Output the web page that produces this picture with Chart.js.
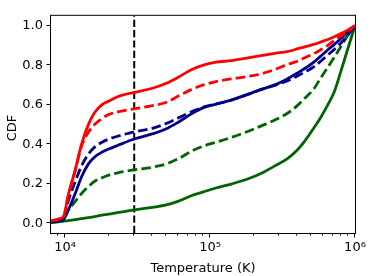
<!DOCTYPE html>
<html>
<head>
<meta charset="utf-8">
<script src="https://cdn.jsdelivr.net/npm/chart.js@4.4.1/dist/chart.umd.min.js"></script>
<style>
  html, body { margin: 0; padding: 0; background: #fff; }
  #wrap { width: 374px; height: 276px; }
</style>
</head>
<body>
<div id="wrap"><canvas id="cdfChart"></canvas></div>
<script>
const temps = [8000, 9000, 9800, 10500, 11750, 13000, 14500, 16000, 18000, 20000, 23000, 30000,
  40000, 50000, 60000, 75000, 90000, 110000, 140000, 180000, 230000, 280000, 340000, 400000,
  450000, 520000, 580000, 650000, 720000, 800000, 900000, 1000000];

// CDF values per curve
const redSolid = [0.01, 0.02, 0.035, 0.14, 0.27, 0.40, 0.50, 0.56, 0.60, 0.618, 0.64, 0.662,
  0.683, 0.708, 0.738, 0.778, 0.80, 0.815, 0.823, 0.836, 0.849, 0.86, 0.868, 0.882,
  0.893, 0.905, 0.917, 0.93, 0.944, 0.96, 0.98, 1.0];
const redDashed = [0.01, 0.02, 0.035, 0.135, 0.265, 0.39, 0.46, 0.50, 0.53, 0.55, 0.563, 0.579,
  0.595, 0.612, 0.642, 0.678, 0.70, 0.717, 0.731, 0.742, 0.758, 0.778, 0.803, 0.82,
  0.838, 0.858, 0.878, 0.90, 0.925, 0.948, 0.972, 1.0];
const blueDashed = [0.01, 0.015, 0.03, 0.11, 0.21, 0.29, 0.35, 0.385, 0.41, 0.425, 0.44, 0.462,
  0.48, 0.505, 0.532, 0.565, 0.588, 0.603, 0.623, 0.65, 0.678, 0.698, 0.72, 0.745,
  0.765, 0.792, 0.82, 0.852, 0.88, 0.912, 0.956, 1.0];
const blueSolid = [0.005, 0.01, 0.02, 0.064, 0.15, 0.235, 0.30, 0.335, 0.36, 0.375, 0.393, 0.426,
  0.452, 0.478, 0.51, 0.555, 0.585, 0.603, 0.623, 0.651, 0.68, 0.70, 0.73, 0.76,
  0.783, 0.815, 0.846, 0.878, 0.905, 0.935, 0.972, 1.0];
const greenDashed = [0.005, 0.01, 0.03, 0.064, 0.11, 0.15, 0.185, 0.212, 0.23, 0.243, 0.255, 0.27,
  0.283, 0.30, 0.325, 0.365, 0.39, 0.41, 0.434, 0.463, 0.495, 0.522, 0.555, 0.595,
  0.632, 0.68, 0.735, 0.79, 0.84, 0.895, 0.956, 1.0];
const greenSolid = [0.003, 0.006, 0.01, 0.013, 0.018, 0.023, 0.028, 0.033, 0.04, 0.045, 0.053, 0.067,
  0.08, 0.092, 0.11, 0.14, 0.158, 0.178, 0.198, 0.222, 0.255, 0.29, 0.325, 0.37,
  0.415, 0.482, 0.535, 0.6, 0.665, 0.77, 0.892, 1.0];

// Vertical marker
const cutTemp = 30000;

// Axis ticks
const xTicks = [1e4, 1e5, 1e6];
const xTickLabels = ['10⁴', '10⁵', '10⁶'];
const yTicks = [0, 0.2, 0.4, 0.6, 0.8, 1.0];

const minorXTicks = [];
for (const dec of [1e3, 1e4, 1e5]) {
  for (let m = 2; m <= 9; m++) minorXTicks.push(m * dec);
}

const FONT = '"DejaVu Sans", sans-serif';
Chart.defaults.font.family = FONT;
Chart.defaults.font.size = 13;
Chart.defaults.color = '#000';

const RED = '#ff0000';
const BLUE = '#00008b';
const GREEN = '#006400';
const DASH = [9.6, 4.2];

function pts(values) {
  return temps.map((t, i) => ({ x: t, y: values[i] }));
}

function series(values, color, dashed) {
  return {
    data: pts(values),
    borderColor: color,
    borderWidth: 2.8,
    borderDash: dashed ? DASH : [],
    pointRadius: 0,
    fill: false,
    cubicInterpolationMode: 'monotone'
  };
}

// frame, tick marks and y label
const framePlugin = {
  id: 'frame',
  afterDraw(chart) {
    const { ctx, chartArea: a, scales: { x, y } } = chart;
    ctx.save();
    ctx.strokeStyle = '#000';
    ctx.lineWidth = 1;
    ctx.strokeRect(a.left - 0.5, a.top - 0.5, a.right - a.left + 1, a.bottom - a.top + 1);

    ctx.beginPath();
    for (const v of xTicks) {
      const px = Math.round(x.getPixelForValue(v)) - 0.5;
      ctx.moveTo(px, a.bottom); ctx.lineTo(px, a.bottom + 4.5);
    }
    for (const v of minorXTicks) {
      if (v <= x.min || v >= x.max) continue;
      const px = Math.round(x.getPixelForValue(v)) - 0.5;
      ctx.moveTo(px, a.bottom); ctx.lineTo(px, a.bottom + 2.6);
    }
    for (const v of yTicks) {
      const py = Math.round(y.getPixelForValue(v)) - 0.5;
      ctx.moveTo(a.left, py); ctx.lineTo(a.left - 4.5, py);
    }
    ctx.stroke();

    ctx.translate(13, 128);
    ctx.rotate(-Math.PI / 2);
    ctx.font = '13px ' + FONT;
    ctx.fillStyle = '#000';
    ctx.textAlign = 'center';
    ctx.textBaseline = 'middle';
    ctx.fillText('CDF', 0, 0);
    ctx.restore();
  }
};

new Chart(document.getElementById('cdfChart'), {
  type: 'line',
  data: {
    datasets: [
      series(redSolid, RED, false),
      series(redDashed, RED, true),
      series(blueDashed, BLUE, true),
      series(blueSolid, BLUE, false),
      series(greenDashed, GREEN, true),
      series(greenSolid, GREEN, false),
      {
        data: [{ x: cutTemp, y: -0.05 }, { x: cutTemp, y: 1.05 }],
        borderColor: '#000',
        borderWidth: 2,
        borderDash: [7.2, 3.1],
        pointRadius: 0,
        fill: false
      }
    ]
  },
  options: {
    animation: false,
    responsive: true,
    maintainAspectRatio: false,
    layout: { padding: { left: 0, right: 19, top: 6, bottom: 0 } },
    plugins: { legend: { display: false }, tooltip: { enabled: false } },
    scales: {
      x: {
        type: 'logarithmic',
        min: 8000,
        max: 1e6,
        grid: { display: false, drawTicks: false },
        border: { display: false },
        afterBuildTicks: (s) => { s.ticks = xTicks.map(v => ({ value: v })); },
        afterFit: (s) => { s.height = 43; },
        ticks: {
          padding: 7,
          maxRotation: 0,
          callback: (v) => xTickLabels[xTicks.indexOf(v)]
        },
        title: { display: true, text: 'Temperature (K)', padding: { top: 3, bottom: 0 } }
      },
      y: {
        min: -0.05,
        max: 1.05,
        grid: { display: false, drawTicks: false },
        border: { display: false },
        afterBuildTicks: (s) => { s.ticks = yTicks.map(v => ({ value: v })); },
        afterFit: (s) => { s.width = 51; },
        ticks: {
          padding: 8,
          callback: (v) => v.toFixed(1)
        }
      }
    }
  },
  plugins: [framePlugin]
});
</script>
</body>
</html>
